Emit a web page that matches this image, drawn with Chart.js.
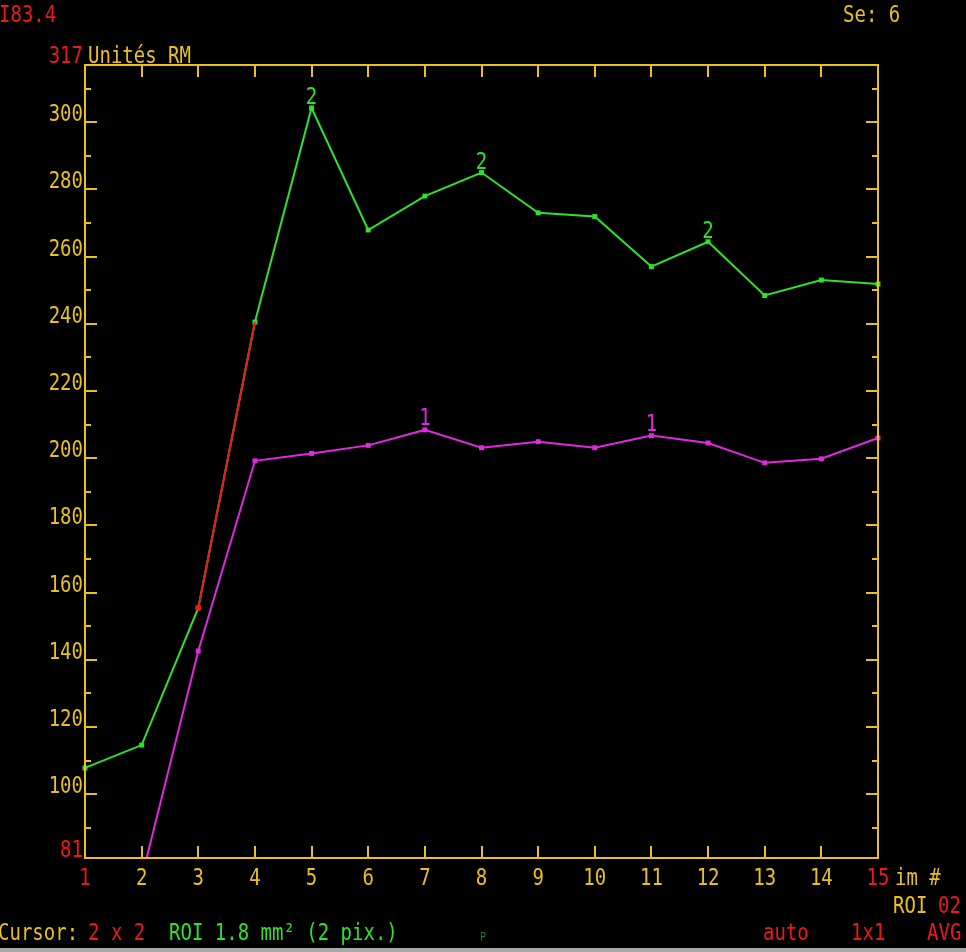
<!DOCTYPE html>
<html>
<head>
<meta charset="utf-8">
<script src="https://cdn.jsdelivr.net/npm/chart.js@4"></script>
<style>
html,body{margin:0;padding:0;background:#000;}
#wrap{width:966px;height:952px;}
</style>
</head>
<body>
<div id="wrap"><canvas id="curve" width="966" height="952"></canvas></div>
<script>
// image numbers (x) and signal per ROI (Unités RM)
var images = [1,2,3,4,5,6,7,8,9,10,11,12,13,14,15];
var roi1 = [70,75,142.6,199.2,201.4,203.8,208.4,203.1,204.9,203.1,206.7,204.5,198.6,199.8,206];
var roi2 = [107.8,114.6,155.4,240.5,304.2,267.9,278,285,273,271.9,257,264.4,248.4,253,251.8];
// segment under the cursor, drawn in red
var cursorSeg = [null,null,155.4,240.5,null,null,null,null,null,null,null,null,null,null,null];
var yTicks = [100,120,140,160,180,200,220,240,260,280,300];
var yMin = 81, yMax = 317;
// images where the ROI number is written above the curve
var roi1Marks = [7,11];
var roi2Marks = [5,8,12];

var YEL = 'rgb(232,192,32)';
var RED = 'rgb(235,25,25)';
var GRN = 'rgb(45,225,45)';
var MAG = 'rgb(225,40,225)';
var FONT = '19px "DejaVu Sans Mono", monospace';

// text is tall and narrow on the console, so stretch it vertically
function txt(ctx, s, x, y, col, align){
  ctx.save();
  ctx.translate(x, y);
  ctx.scale(1, 1.22);
  ctx.fillStyle = col;
  ctx.textAlign = align || 'left';
  ctx.textBaseline = 'alphabetic';
  ctx.fillText(s, 0, 0);
  ctx.restore();
}

var frame = {
  id: 'frame',
  beforeDraw: function(chart){
    var ctx = chart.ctx;
    ctx.save();
    ctx.fillStyle = '#000';
    ctx.fillRect(0, 0, chart.width, chart.height);
    ctx.restore();
  },
  afterDraw: function(chart){
    var ctx = chart.ctx, a = chart.chartArea;
    var xs = chart.scales.x, ys = chart.scales.y;
    ctx.save();
    // box
    ctx.strokeStyle = YEL;
    ctx.lineWidth = 2;
    ctx.strokeRect(a.left, a.top, a.right - a.left, a.bottom - a.top);
    // y ticks, inward on both sides
    ctx.beginPath();
    yTicks.forEach(function(t){
      var py = Math.round(ys.getPixelForValue(t));
      ctx.moveTo(a.left, py); ctx.lineTo(a.left + 12, py);
      ctx.moveTo(a.right, py); ctx.lineTo(a.right - 12, py);
    });
    yTicks.concat([320]).forEach(function(t){
      var v = t - 10;
      if (v <= yMin || v >= yMax) return;
      var py = Math.round(ys.getPixelForValue(v));
      ctx.moveTo(a.left, py); ctx.lineTo(a.left + 6, py);
      ctx.moveTo(a.right, py); ctx.lineTo(a.right - 6, py);
    });
    ctx.stroke();
    // x ticks, inward top and bottom
    ctx.beginPath();
    for (var i = 1; i < images.length - 1; i++){
      var px = Math.round(xs.getPixelForValue(i));
      ctx.moveTo(px, a.top); ctx.lineTo(px, a.top + 12);
      ctx.moveTo(px, a.bottom); ctx.lineTo(px, a.bottom - 12);
    }
    ctx.stroke();

    ctx.font = FONT;
    // y labels sit on their tick
    yTicks.forEach(function(t){
      txt(ctx, String(t), a.left - 2, ys.getPixelForValue(t) - 1, YEL, 'right');
    });
    txt(ctx, String(yMin), a.left - 2, ys.getPixelForValue(yMin) - 1, RED, 'right');
    txt(ctx, String(yMax), a.left - 2, ys.getPixelForValue(yMax) - 2, RED, 'right');
    txt(ctx, 'Unités RM', a.left + 3, ys.getPixelForValue(yMax) - 2, YEL);
    // x labels
    images.forEach(function(im, i){
      var last = i === 0 || i === images.length - 1;
      txt(ctx, String(im), xs.getPixelForValue(i), a.bottom + 27, last ? RED : YEL, 'center');
    });
    txt(ctx, 'im #', a.right + 17, a.bottom + 27, YEL);

    // ROI numbers above the curves
    roi2Marks.forEach(function(m){
      var i = images.indexOf(m);
      txt(ctx, '2', xs.getPixelForValue(i), ys.getPixelForValue(roi2[i]) - 4, GRN, 'center');
    });
    roi1Marks.forEach(function(m){
      var i = images.indexOf(m);
      txt(ctx, '1', xs.getPixelForValue(i), ys.getPixelForValue(roi1[i]) - 5, MAG, 'center');
    });

    // header / footer text
    txt(ctx, 'I83.4', -1, 22, RED);
    txt(ctx, 'Se: 6', 843, 22, YEL);
    txt(ctx, 'ROI', 893, 913, YEL);
    txt(ctx, '02', 938, 913, RED);
    txt(ctx, 'Cursor:', -2, 940, YEL);
    txt(ctx, '2 x 2', 88, 940, RED);
    txt(ctx, 'ROI 1.8 mm² (2 pix.)', 169, 940, GRN);
    txt(ctx, 'auto', 763, 940, RED);
    txt(ctx, '1x1', 851, 940, RED);
    txt(ctx, 'AVG', 927, 940, RED);
    ctx.font = '10px "DejaVu Sans", sans-serif';
    txt(ctx, 'P', 480, 941, 'rgb(30,120,30)');
    ctx.fillStyle = '#a8a8a8';
    ctx.fillRect(0, 948, chart.width, 4);
    ctx.restore();
  }
};

function ptRadius(c){
  var v = c.raw;
  return (v == null || v < yMin) ? 0 : 3.5;
}

new Chart(document.getElementById('curve'), {
  type: 'line',
  data: {
    labels: images,
    datasets: [
      {
        label: 'curseur',
        data: cursorSeg,
        borderColor: RED,
        backgroundColor: RED,
        borderWidth: 2,
        pointStyle: 'circle',
        pointRadius: [0,0,3,0,0,0,0,0,0,0,0,0,0,0,0],
        pointBorderWidth: 0,
        order: 0
      },
      {
        label: 'ROI 2',
        data: roi2,
        borderColor: GRN,
        backgroundColor: GRN,
        borderWidth: 2,
        pointStyle: 'rect',
        pointRadius: ptRadius,
        pointBorderWidth: 0,
        order: 1
      },
      {
        label: 'ROI 1',
        data: roi1,
        borderColor: MAG,
        backgroundColor: MAG,
        borderWidth: 2,
        pointStyle: 'rect',
        pointRadius: ptRadius,
        pointBorderWidth: 0,
        order: 2
      }
    ]
  },
  options: {
    responsive: false,
    devicePixelRatio: 1,
    animation: false,
    layout: { padding: { left: 85, top: 65, right: 88, bottom: 94 } },
    plugins: { legend: { display: false }, tooltip: { enabled: false } },
    elements: { line: { tension: 0 } },
    scales: {
      x: { display: false, offset: false },
      y: { display: false, min: yMin, max: yMax }
    }
  },
  plugins: [frame]
});
</script>
</body>
</html>
